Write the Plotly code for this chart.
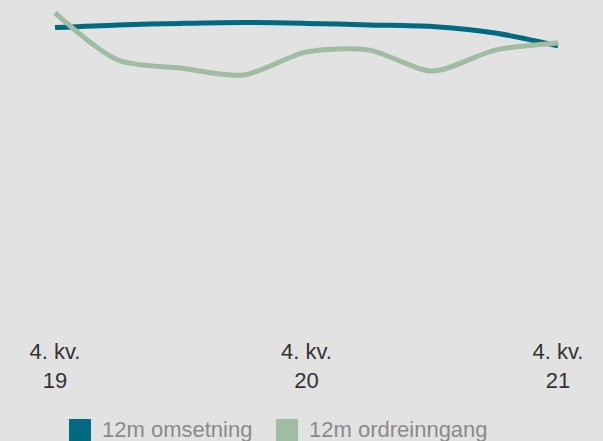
import plotly.graph_objects as go

quarters = ["4. kv. 19", "1. kv. 20", "2. kv. 20", "3. kv. 20", "4. kv. 20",
            "1. kv. 21", "2. kv. 21", "3. kv. 21", "4. kv. 21"]
omsetning = [100.8, 101.7, 102.2, 102.5, 102.2, 101.7, 101.2, 99.0, 94.7]
ordreinngang = [105.7, 90.0, 87.3, 85.0, 92.7, 93.3, 86.3, 93.3, 95.7]
tick_idx = [0, 4, 8]
tick_labels = ["4. kv.<br>19", "4. kv.<br>20", "4. kv.<br>21"]
names = ["12m omsetning", "12m ordreinngang"]
colors = ["#006a80", "#a0bca2"]

# legend layout (paper coords)
legend_x = [0.1144, 0.4577]
swatch_w = 0.0365
legend_text_dx = 0.053
legend_y_top, legend_y_bot, legend_y_mid = -0.2697, -0.3364, -0.300

x = list(range(len(quarters)))
fig = go.Figure()
for vals, name, col in [(omsetning, names[0], colors[0]), (ordreinngang, names[1], colors[1])]:
    fig.add_trace(go.Scatter(x=x, y=vals, mode="lines", name=name,
                             line=dict(color=col, width=5, shape="spline", smoothing=0.8),
                             showlegend=False))

for lx, name, col in zip(legend_x, names, colors):
    fig.add_shape(type="rect", xref="paper", yref="paper",
                  x0=lx, x1=lx + swatch_w, y0=legend_y_bot, y1=legend_y_top,
                  fillcolor=col, line=dict(width=0))
    fig.add_annotation(xref="paper", yref="paper", x=lx + legend_text_dx, y=legend_y_mid,
                       xanchor="left", yanchor="middle", text=name, showarrow=False,
                       font=dict(size=22, color="#8a8a8a"), borderpad=0)

fig.update_layout(
    width=603, height=441,
    margin=dict(l=0, r=0, t=0, b=111),
    paper_bgcolor="#e2e2e2", plot_bgcolor="#e2e2e2",
    font=dict(family="Liberation Sans, Arial, sans-serif", size=22, color="#333333"),
    showlegend=False,
    xaxis=dict(range=[-0.875, 8.716], tickvals=tick_idx, ticktext=tick_labels,
               showgrid=False, zeroline=False, showline=False, ticks="",
               ticklabelstandoff=6),
    yaxis=dict(range=[0, 110], showgrid=False, zeroline=False, showticklabels=False),
)
fig.write_html("out.html")
